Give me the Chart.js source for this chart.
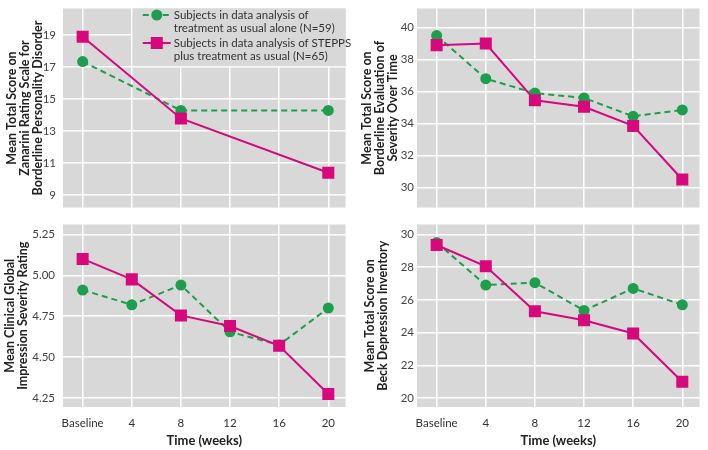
<!DOCTYPE html>
<html>
  <head>
    <title>STEPPS outcome panels</title>
    <script src="https://cdn.jsdelivr.net/npm/chart.js@4.4.1/dist/chart.umd.min.js"></script>
    <style>
      body { margin: 0; background: #fff; }
      #wrap { position: relative; width: 708px; height: 450px; }
      canvas { position: absolute; }
    </style>
  </head>
  <body>
    <div id="wrap">
      <canvas id="tl" style="left:0;top:0"></canvas>
      <canvas id="tr" style="left:354px;top:0"></canvas>
      <canvas id="bl" style="left:0;top:216px"></canvas>
      <canvas id="br" style="left:354px;top:216px"></canvas>
    </div>
    <script>
      // weeks (0 = Baseline)
      var weeks = [0, 4, 8, 12, 16, 20];
      var weeksZan = [0, 8, 20];
      var xTicks = [0, 4, 8, 12, 16, 20];

      var zanTau = [17.35, 14.3, 14.3];
      var zanStepps = [18.9, 13.8, 10.4];

      var bestTau = [39.5, 36.8, 35.9, 35.6, 34.45, 34.85];
      var bestStepps = [38.9, 39.0, 35.45, 35.05, 33.85, 30.5];

      var cgiTau = [4.91, 4.82, 4.94, 4.655, 4.575, 4.80];
      var cgiStepps = [5.10, 4.975, 4.755, 4.69, 4.57, 4.275];

      var bdiTau = [29.5, 26.9, 27.05, 25.35, 26.7, 25.7];
      var bdiStepps = [29.35, 28.05, 25.3, 24.75, 23.95, 21.0];

      var legendTau = ['Subjects in data analysis of', 'treatment as usual alone (N=59)'];
      var legendStepps = ['Subjects in data analysis of STEPPS', 'plus treatment as usual (N=65)'];

      var GREEN = '#1c9e4b';
      var PINK = '#d6087c';
      var GRAY = '#d8d8d9';
      var FONT = 'Lato, "Open Sans", sans-serif';

      var bgPlugin = {
        id: 'plotBg',
        beforeDraw: function (chart) {
          var a = chart.chartArea, ctx = chart.ctx;
          ctx.save();
          ctx.fillStyle = GRAY;
          ctx.fillRect(a.left, a.top, a.right - a.left, a.bottom - a.top);
          ctx.restore();
        }
      };

      // legend box sits in the upper right of the first panel, over the grid
      var legendPlugin = {
        id: 'boxLegend',
        afterDraw: function (chart) {
          var a = chart.chartArea, ctx = chart.ctx;
          var x0 = chart.scales.x.getPixelForValue(4) + 1;
          var y1 = chart.scales.y.getPixelForValue(17) - 1;
          ctx.save();
          ctx.fillStyle = GRAY;
          ctx.fillRect(x0, a.top, a.right - x0, y1 - a.top);
          ctx.font = '11.5px ' + FONT;
          ctx.textBaseline = 'middle';
          ctx.strokeStyle = GREEN;
          ctx.lineWidth = 2;
          ctx.setLineDash([6, 4]);
          ctx.beginPath(); ctx.moveTo(x0 + 10, 15); ctx.lineTo(x0 + 38, 15); ctx.stroke();
          ctx.setLineDash([]);
          ctx.fillStyle = GREEN;
          ctx.beginPath(); ctx.arc(x0 + 24, 15, 5.5, 0, Math.PI * 2); ctx.fill();
          ctx.strokeStyle = PINK;
          ctx.beginPath(); ctx.moveTo(x0 + 10, 43); ctx.lineTo(x0 + 38, 43); ctx.stroke();
          ctx.fillStyle = PINK;
          ctx.fillRect(x0 + 18, 37, 12, 12);
          ctx.fillStyle = '#333';
          ctx.fillText(legendTau[0], x0 + 41, 15);
          ctx.fillText(legendTau[1], x0 + 41, 28);
          ctx.fillText(legendStepps[0], x0 + 41, 43);
          ctx.fillText(legendStepps[1], x0 + 41, 56);
          ctx.restore();
        }
      };

      function pts(xs, ys) {
        return xs.map(function (x, i) { return { x: x, y: ys[i] }; });
      }

      function makeChart(id, opts) {
        var el = document.getElementById(id);
        el.width = 354;
        el.height = opts.height;
        el.style.width = '354px';
        el.style.height = opts.height + 'px';
        var plugins = [bgPlugin];
        if (opts.legend) plugins.push(legendPlugin);
        return new Chart(el.getContext('2d'), {
          type: 'line',
          data: {
            datasets: [
              {
                label: 'STEPPS plus treatment as usual',
                data: pts(opts.xs, opts.stepps),
                borderColor: PINK, backgroundColor: PINK, borderWidth: 2,
                pointStyle: 'rect', pointRadius: 8.5, pointHoverRadius: 8.5, pointBorderWidth: 0,
                order: 0
              },
              {
                label: 'Treatment as usual alone',
                data: pts(opts.xs, opts.tau),
                borderColor: GREEN, backgroundColor: GREEN, borderWidth: 2, borderDash: [6, 4],
                pointStyle: 'circle', pointRadius: 5.5, pointHoverRadius: 5.5, pointBorderWidth: 0,
                order: 1
              }
            ]
          },
          options: {
            responsive: false,
            animation: false,
            devicePixelRatio: 1,
            layout: { padding: { top: opts.padTop, right: 5, left: 0, bottom: 0 } },
            plugins: { legend: { display: false }, tooltip: { enabled: false } },
            scales: {
              x: {
                type: 'linear', min: -1.6, max: 21.4,
                afterBuildTicks: function (s) { s.ticks = xTicks.map(function (v) { return { value: v }; }); },
                afterFit: function (s) {
                  s.height = opts.xHeight;
                  s.paddingLeft = 0; s.paddingRight = 0;
                },
                grid: { color: '#ffffff', lineWidth: 1.5, drawTicks: false },
                border: { display: false },
                ticks: {
                  display: opts.showX, padding: 9, color: '#333',
                  font: { family: FONT, size: 11.5 },
                  callback: function (v) { return v === 0 ? 'Baseline' : String(v); }
                },
                title: {
                  display: opts.showX, text: 'Time (weeks)', color: '#222',
                  font: { family: FONT, size: 13, weight: 'bold' },
                  padding: { top: 2, bottom: 1 }
                }
              },
              y: {
                min: opts.ymin, max: opts.ymax,
                afterBuildTicks: function (s) { s.ticks = opts.yTicks.map(function (v) { return { value: v }; }); },
                afterFit: function (s) {
                  s.width = 63;
                  s.paddingTop = 0; s.paddingBottom = 0;
                },
                grid: { color: '#ffffff', lineWidth: 1.5, drawTicks: false },
                border: { display: false },
                ticks: {
                  padding: opts.tickPad, color: '#444',
                  font: { family: FONT, size: 11.5 },
                  callback: function (v) { return opts.fmt(v); }
                },
                title: {
                  display: true, text: opts.yTitle, color: '#222',
                  font: { family: FONT, size: 12.5, weight: 'bold', lineHeight: 1.05 },
                  padding: { top: opts.titlePad, bottom: 0 }
                }
              }
            }
          },
          plugins: plugins
        });
      }

      makeChart('tl', {
        height: 216, padTop: 5, xHeight: 2, showX: false, legend: true,
        xs: weeksZan, tau: zanTau, stepps: zanStepps,
        ymin: 8.23, ymax: 20.67, yTicks: [9, 11, 13, 15, 17, 19],
        fmt: function (v) { return String(v); },
        yTitle: ['Mean Total Score on', 'Zanarini Rating Scale for', 'Borderline Personality Disorder'],
        titlePad: 5.5, tickPad: 7
      });
      makeChart('tr', {
        height: 216, padTop: 5, xHeight: 2, showX: false, legend: false,
        xs: weeks, tau: bestTau, stepps: bestStepps,
        ymin: 28.75, ymax: 41.19, yTicks: [30, 32, 34, 36, 38, 40],
        fmt: function (v) { return String(v); },
        yTitle: ['Mean Total Score on', 'Borderline Evaluation of', 'Severity Over Time'],
        titlePad: 6.5, tickPad: 3
      });
      makeChart('bl', {
        height: 234, padTop: 4, xHeight: 43, showX: true, legend: false,
        xs: weeks, tau: cgiTau, stepps: cgiStepps,
        ymin: 4.196, ymax: 5.31, yTicks: [4.25, 4.5, 4.75, 5.0, 5.25],
        fmt: function (v) { return v.toFixed(2); },
        yTitle: ['Mean Clinical Global', 'Impression Severity Rating'],
        titlePad: 3.5, tickPad: 8
      });
      makeChart('br', {
        height: 234, padTop: 4, xHeight: 43, showX: true, legend: false,
        xs: weeks, tau: bdiTau, stepps: bdiStepps,
        ymin: 19.46, ymax: 30.6, yTicks: [20, 22, 24, 26, 28, 30],
        fmt: function (v) { return String(v); },
        yTitle: ['Mean Total Score on', 'Beck Depression Inventory'],
        titlePad: 9.5, tickPad: 3
      });
    </script>
  </body>
</html>
